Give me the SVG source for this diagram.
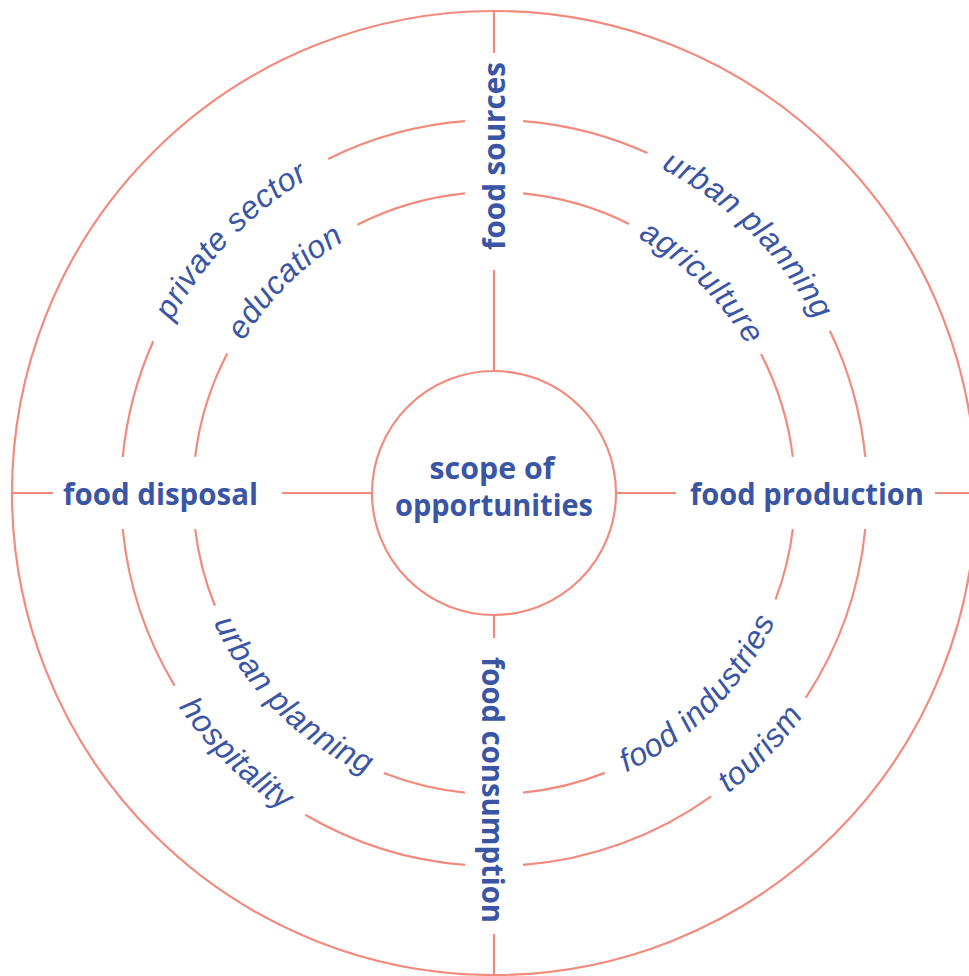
<svg xmlns="http://www.w3.org/2000/svg" width="969" height="976" viewBox="0 0 969 976">
<style>
.ring{fill:none;stroke:#f28b7d;stroke-width:2.2}
.ln{stroke:#f28b7d;stroke-width:2.2}
.b{font-family:"Open Sans","Noto Sans",sans-serif;font-weight:700;font-size:30px;fill:#3b55a5;text-anchor:middle}
.i{font-family:"Liberation Sans",Arial,sans-serif;font-style:italic;font-size:32px;fill:#3b55a5;letter-spacing:0.6px}
</style>
<defs>
<path id="pTRm" d="M396.46,141.28 A365,365 0 0,1 847.37,584.39"/>
<path id="pTRi" d="M416.19,210.52 A293,293 0 0,1 777.54,566.86"/>
<path id="pTLm" d="M143.49,594.83 A365,365 0 0,1 581.06,138.54"/>
<path id="pTLi" d="M210.59,567.35 A293,293 0 0,1 571.31,210.38"/>
<path id="pBLi" d="M195.18,414.33 A309,309 0 0,0 575.28,791.12"/>
<path id="pBLm" d="M125.39,396.64 A381,381 0 0,0 594.85,860.41"/>
<path id="pBRi" d="M416.37,792.09 A309,309 0 0,0 791.83,410.69"/>
<path id="pBRm" d="M402.80,862.92 A381,381 0 0,0 859.97,387.03"/>
</defs>
<g id="connectors">
<circle class="ring" cx="494" cy="493" r="482"/>
<path class="ring" d="M865.26,529.01 A373,373 0 0,1 805.76,697.78 M711.13,796.29 A373,373 0 0,1 523,864.87 M465,864.87 A373,373 0 0,1 305.25,814.72 M174.61,685.67 A373,373 0 0,1 122.74,529.01 M122.74,456.99 A373,373 0 0,1 153.25,341.29 M328.15,158.90 A373,373 0 0,1 465,121.13 M523,121.13 A373,373 0 0,1 647.49,153.05 M829.82,330.66 A373,373 0 0,1 865.26,456.99"/>
<path class="ring" d="M792.84,529.01 A301,301 0 0,1 775.57,599.39 M604.80,772.86 A301,301 0 0,1 523,792.60 M465,792.60 A301,301 0 0,1 383.68,773.06 M214.92,605.76 A301,301 0 0,1 195.16,529.01 M195.16,456.99 A301,301 0 0,1 227.25,353.55 M357.35,224.81 A301,301 0 0,1 465,193.40 M523,193.40 A301,301 0 0,1 629.25,224.10 M760.99,354.01 A301,301 0 0,1 792.84,456.99"/>
<path class="ln" d="M494,11 V53 M494,270 V371 M494,615 V638 M494,934 V975 M11,493 H53 M282,493 H372 M616,493 H676 M935,493 H969"/>
</g>
<g id="center">
<circle class="ring" cx="494" cy="493" r="122"/>
<text class="b" x="492" y="479" textLength="125" lengthAdjust="spacingAndGlyphs">scope of</text>
<text class="b" x="494" y="516" textLength="198" lengthAdjust="spacingAndGlyphs">opportunities</text>
</g>
<g id="food-sources"><text class="b" transform="translate(505,156) rotate(-90)" textLength="188" lengthAdjust="spacingAndGlyphs">food sources</text></g>
<g id="food-production"><text class="b" x="807" y="505" textLength="234" lengthAdjust="spacingAndGlyphs">food production</text></g>
<g id="food-consumption"><text class="b" transform="translate(482,790) rotate(90)" textLength="266" lengthAdjust="spacingAndGlyphs">food consumption</text></g>
<g id="food-disposal"><text class="b" x="160.5" y="505" textLength="195" lengthAdjust="spacingAndGlyphs">food disposal</text></g>
<g id="label-urban-planning-tr"><text class="i"><textPath href="#pTRm" startOffset="50%" text-anchor="middle">urban planning</textPath></text></g>
<g id="label-agriculture"><text class="i"><textPath href="#pTRi" startOffset="50%" text-anchor="middle">agriculture</textPath></text></g>
<g id="label-private-sector"><text class="i"><textPath href="#pTLm" startOffset="50%" text-anchor="middle">private sector</textPath></text></g>
<g id="label-education"><text class="i"><textPath href="#pTLi" startOffset="50%" text-anchor="middle">education</textPath></text></g>
<g id="label-urban-planning-bl"><text class="i"><textPath href="#pBLi" startOffset="50%" text-anchor="middle">urban planning</textPath></text></g>
<g id="label-hospitality"><text class="i"><textPath href="#pBLm" startOffset="50%" text-anchor="middle">hospitality</textPath></text></g>
<g id="label-food-industries"><text class="i"><textPath href="#pBRi" startOffset="50%" text-anchor="middle">food industries</textPath></text></g>
<g id="label-tourism"><text class="i"><textPath href="#pBRm" startOffset="50%" text-anchor="middle">tourism</textPath></text></g>
</svg>
